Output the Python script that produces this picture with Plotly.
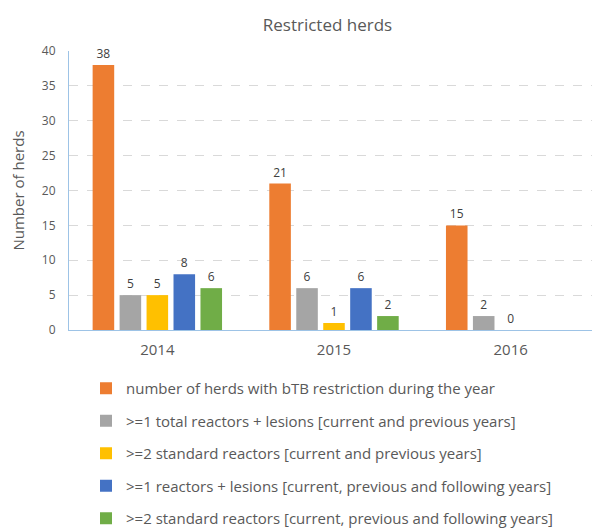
import plotly.graph_objects as go

years = ["2014", "2015", "2016"]
series_names = [
    "number of herds with bTB restriction during the year",
    ">=1 total reactors + lesions [current and previous years]",
    ">=2 standard reactors [current and previous years]",
    ">=1 reactors + lesions [current, previous and following years]",
    ">=2 standard reactors [current, previous and following years]",
]
restricted = [38, 21, 15]
total_reactors_lesions = [5, 6, 2]
std_reactors_prev = [5, 1, 0]
reactors_lesions_follow = [8, 6, None]
std_reactors_follow = [6, 2, None]
series_values = [restricted, total_reactors_lesions, std_reactors_prev,
                 reactors_lesions_follow, std_reactors_follow]
colors = ["#ED7D31", "#A5A5A5", "#FFC000", "#4472C4", "#70AD47"]
y_ticks = [0, 5, 10, 15, 20, 25, 30, 35, 40]

FONT = "Open Sans"
W, H = 592, 522  # page has an 8px body margin
L, R, T, B = 61, 1, 43, 200
PW, PH = W - L - R, H - T - B

fig = go.Figure()
for i, (name, vals, col) in enumerate(zip(series_names, series_values, colors)):
    fig.add_trace(go.Bar(
        x=years, y=vals, name=name, marker_color=col,
        marker_line_width=0,
        text=[("" if v is None else str(v)) for v in vals],
        textposition="outside", cliponaxis=False,
        textfont=dict(size=12, color="#404040", family=FONT),
        legendgroup=f"g{i}",
    ))

fig.update_layout(
    width=W, height=H,
    margin=dict(l=L, r=R, t=T, b=B, autoexpand=False),
    paper_bgcolor="white", plot_bgcolor="white",
    barmode="group", bargap=0.237, bargroupgap=0.2,
    font=dict(family=FONT, color="#595959"),
    title=dict(text="Restricted herds", x=319.5 / W, xanchor="center",
               y=1 - 17 / H, yanchor="middle",
               font=dict(size=17, color="#595959", family=FONT)),
    showlegend=True,
    legend=dict(x=17 / PW, y=-42 / PH,
                xanchor="left", yanchor="top", orientation="v",
                tracegroupgap=10,
                font=dict(size=15, color="#595959", family=FONT),
                bgcolor="rgba(0,0,0,0)"),
    xaxis=dict(type="category", range=[-0.5, 2.5], showgrid=False,
               showline=True, linecolor="#9DC3E6", linewidth=1,
               ticks="", tickfont=dict(size=15, color="#595959"),
               ticklabelstandoff=6),
    yaxis=dict(range=[0, 40], tickvals=y_ticks, showgrid=True,
               gridcolor="#D9D9D9", griddash="dash", gridwidth=1,
               showline=True, linecolor="#9DC3E6", linewidth=1,
               zeroline=False, ticks="", ticklabelstandoff=10,
               tickfont=dict(size=12, color="#595959"),
               title=dict(text="Number of herds", standoff=16,
                          font=dict(size=15, color="#595959"))),
)

fig.write_html("out.html")
